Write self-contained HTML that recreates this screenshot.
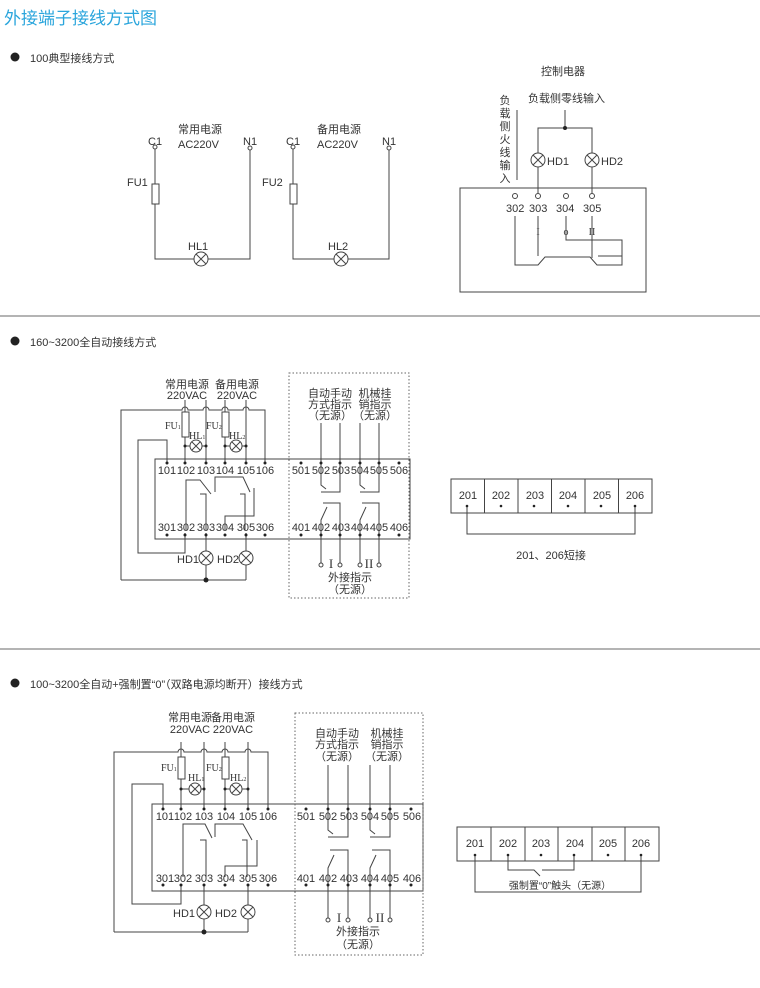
<!DOCTYPE html>
<html><head><meta charset="utf-8"><style>
html,body{margin:0;padding:0;background:#fff;}
svg{display:block;font-family:"Liberation Sans","Noto Sans CJK SC",sans-serif;}
.l{stroke:#444;stroke-width:1;fill:none}
.t{fill:#333;font-size:11px}
.c{fill:#333;font-size:10px}
.s{font-family:"Liberation Serif","Noto Serif CJK SC",serif;fill:#333}
</style></head><body>
<svg width="760" height="988" viewBox="0 0 760 988" xmlns="http://www.w3.org/2000/svg">
<defs>
<g id="lamp"><circle r="7" fill="#fff" stroke="#444"/><path d="M-5,-5L5,5M5,-5L-5,5" stroke="#444"/></g>
<g id="lamps"><circle r="6" fill="#fff" stroke="#444"/><path d="M-4,-4L4,4M4,-4L-4,4" stroke="#444"/></g>
</defs>
<text x="4" y="24" fill="#2aa5dc" font-size="17">外接端子接线方式图</text>

<!-- Section 1 -->
<circle cx="15" cy="57" r="4.5" fill="#222"/>
<text x="30" y="62" class="t" font-size="12">100典型接线方式</text>

<g class="l">
<path d="M155,149V259H250V149"/>
<path d="M293,149V259H389V149"/>
<rect x="152" y="184" width="7" height="20" fill="#fff"/>
<rect x="290" y="184" width="7" height="20" fill="#fff"/>
</g>
<circle cx="155" cy="147" r="2" fill="#fff" stroke="#444"/><circle cx="250" cy="148" r="2" fill="#fff" stroke="#444"/>
<circle cx="293" cy="147" r="2" fill="#fff" stroke="#444"/><circle cx="389" cy="148" r="2" fill="#fff" stroke="#444"/>
<use href="#lamp" x="201" y="259"/><use href="#lamp" x="341" y="259"/>
<g class="t" font-size="12">
<text x="148" y="145">C1</text><text x="243" y="145">N1</text>
<text x="286" y="145">C1</text><text x="382" y="145">N1</text>
<text x="127" y="186">FU1</text><text x="262" y="186">FU2</text>
<text x="188" y="250">HL1</text><text x="328" y="250">HL2</text>
<text x="178" y="133">常用电源</text><text x="178" y="148">AC220V</text>
<text x="317" y="133">备用电源</text><text x="317" y="148">AC220V</text>
</g>

<!-- control box -->
<g class="l">
<rect x="460" y="188" width="186" height="104"/>
<path d="M517,110V180"/>
<path d="M538,193V128H592V193M565,128V110"/>
<path d="M538,216V256M566,216V240H622V256H598M592,216V258"/>
<path d="M515,216V265H538L545,257H590L597,265H622V256"/>
</g>
<circle cx="565" cy="128" r="2" fill="#222"/>
<use href="#lamp" x="538" y="160"/><use href="#lamp" x="592" y="160"/>
<g fill="#fff" stroke="#444"><circle cx="515" cy="196" r="2.5"/><circle cx="538" cy="196" r="2.5"/><circle cx="566" cy="196" r="2.5"/><circle cx="592" cy="196" r="2.5"/></g>
<g class="t" font-size="12">
<text x="541" y="75">控制电器</text>
<text x="528" y="102">负载侧零线输入</text>
<text x="547" y="165">HD1</text><text x="601" y="165">HD2</text>
<text x="506" y="212">302</text><text x="529" y="212">303</text><text x="556" y="212">304</text><text x="583" y="212">305</text>
</g>
<g class="t" font-size="12" text-anchor="middle">
<text x="505" y="104">负</text><text x="505" y="117">载</text><text x="505" y="130">侧</text><text x="505" y="143">火</text><text x="505" y="156">线</text><text x="505" y="169">输</text><text x="505" y="182">入</text>
</g>
<g class="s" font-size="10" text-anchor="middle"><text x="538" y="235">I</text><text x="566" y="235">o</text><text x="592" y="235">II</text></g>

<line x1="0" y1="316" x2="760" y2="316" stroke="#888" stroke-width="1.2"/>

<!-- Section 2 -->
<circle cx="15" cy="341" r="4.5" fill="#222"/>
<text x="30" y="346" class="t" font-size="12">160~3200全自动接线方式</text>

<rect x="155" y="459" width="255" height="80" class="l"/>
<rect x="289" y="373" width="120" height="225" fill="none" stroke="#666" stroke-dasharray="1.5,2"/>
<g class="l">
<path d="M121,580V410H182a3,3 0 0 1 6,0H203a3,3 0 0 1 6,0H222a3,3 0 0 1 6,0H243a3,3 0 0 1 6,0H265V463"/>
<path d="M121,580H246M206,533V580M246,533V580"/>
<path d="M185,400V463M206,400V463M225,400V463M246,400V463"/>
<path d="M185,446H206M225,446H246"/>
<path d="M167,463V440H138V553H185V533"/>
<path d="M186,530V480H200L211,494M200,494H206V530"/>
<path d="M215,492V477H243L250,492M240,494H245V530M225,530V516H254V488"/>
<path d="M321,423V485L326,489M321,492H340V423"/>
<path d="M360,423V485L365,489M360,492H379V423"/>
<path d="M321,533V520L327,507M323,503H340V533"/>
<path d="M360,533V520L366,507M362,503H379V533"/>
<path d="M321,533V563M340,533V563M360,533V563M379,533V563"/>
</g>
<g fill="#fff" stroke="#444"><rect x="182" y="412" width="7" height="25"/><rect x="222" y="412" width="7" height="25"/>
<circle cx="321" cy="565" r="2"/><circle cx="340" cy="565" r="2"/><circle cx="360" cy="565" r="2"/><circle cx="379" cy="565" r="2"/></g>
<use href="#lamps" x="196" y="446"/><use href="#lamps" x="236" y="446"/>
<use href="#lamp" x="206" y="558"/><use href="#lamp" x="246" y="558"/>
<g fill="#222"><circle cx="185" cy="446" r="1.5"/><circle cx="206" cy="446" r="1.5"/><circle cx="225" cy="446" r="1.5"/><circle cx="246" cy="446" r="1.5"/><circle cx="206" cy="580" r="2.5"/>
<circle cx="167" cy="463" r="1.5"/><circle cx="185" cy="463" r="1.5"/><circle cx="206" cy="463" r="1.5"/><circle cx="225" cy="463" r="1.5"/><circle cx="246" cy="463" r="1.5"/><circle cx="265" cy="463" r="1.5"/>
<circle cx="301" cy="463" r="1.5"/><circle cx="321" cy="463" r="1.5"/><circle cx="340" cy="463" r="1.5"/><circle cx="360" cy="463" r="1.5"/><circle cx="379" cy="463" r="1.5"/><circle cx="399" cy="463" r="1.5"/>
<circle cx="167" cy="535" r="1.5"/><circle cx="185" cy="535" r="1.5"/><circle cx="206" cy="535" r="1.5"/><circle cx="225" cy="535" r="1.5"/><circle cx="246" cy="535" r="1.5"/><circle cx="265" cy="535" r="1.5"/>
<circle cx="301" cy="535" r="1.5"/><circle cx="321" cy="535" r="1.5"/><circle cx="340" cy="535" r="1.5"/><circle cx="360" cy="535" r="1.5"/><circle cx="379" cy="535" r="1.5"/><circle cx="399" cy="535" r="1.5"/></g>
<g class="t" font-size="10" text-anchor="middle">
<text x="167" y="474">101</text><text x="186" y="474">102</text><text x="206" y="474">103</text><text x="225" y="474">104</text><text x="246" y="474">105</text><text x="265" y="474">106</text>
<text x="301" y="474">501</text><text x="321" y="474">502</text><text x="341" y="474">503</text><text x="360" y="474">504</text><text x="379" y="474">505</text><text x="399" y="474">506</text>
<text x="167" y="531">301</text><text x="186" y="531">302</text><text x="206" y="531">303</text><text x="225" y="531">304</text><text x="246" y="531">305</text><text x="265" y="531">306</text>
<text x="301" y="531">401</text><text x="321" y="531">402</text><text x="341" y="531">403</text><text x="360" y="531">404</text><text x="379" y="531">405</text><text x="399" y="531">406</text>
<text x="187" y="388">常用电源</text><text x="187" y="399">220VAC</text>
<text x="237" y="388">备用电源</text><text x="237" y="399">220VAC</text>
<text x="330" y="397">自动手动</text><text x="330" y="408">方式指示</text><text x="330" y="419">（无源）</text>
<text x="375" y="397">机械挂</text><text x="375" y="408">销指示</text><text x="375" y="419">（无源）</text>
<text x="350" y="581">外接指示</text><text x="350" y="593">（无源）</text>
</g>
<g class="t" font-size="11"><text x="177" y="563">HD1</text><text x="217" y="563">HD2</text></g>
<g class="s" font-size="10"><text x="165" y="429">FU<tspan font-size="6">1</tspan></text><text x="206" y="429">FU<tspan font-size="6">2</tspan></text>
<text x="189" y="439">HL<tspan font-size="6">1</tspan></text><text x="229" y="439">HL<tspan font-size="6">2</tspan></text></g>
<g class="s" font-size="13" text-anchor="middle"><text x="331" y="568">I</text><text x="369" y="568">II</text></g>

<!-- terminal block 1 -->
<g class="l"><rect x="451" y="479" width="201" height="34"/>
<path d="M484.5,479V513M518,479V513M551.5,479V513M585,479V513M618.5,479V513"/>
<path d="M467,506V534H635V506"/></g>
<g class="t" font-size="12" text-anchor="middle">
<text x="468" y="499">201</text><text x="501" y="499">202</text><text x="535" y="499">203</text><text x="568" y="499">204</text><text x="602" y="499">205</text><text x="635" y="499">206</text>
<text x="551" y="559">201、206短接</text></g>
<g fill="#222"><circle cx="467" cy="506" r="1.3"/><circle cx="501" cy="506" r="1.3"/><circle cx="534" cy="506" r="1.3"/><circle cx="568" cy="506" r="1.3"/><circle cx="601" cy="506" r="1.3"/><circle cx="635" cy="506" r="1.3"/></g>

<line x1="0" y1="649" x2="760" y2="649" stroke="#888" stroke-width="1.2"/>

<!-- Section 3 -->
<circle cx="15" cy="683" r="4.5" fill="#222"/>
<text x="30" y="688" class="t" font-size="12">100~3200全自动+强制置“0”（双路电源均断开）接线方式</text>

<rect x="152" y="804" width="271" height="87" class="l"/>
<rect x="295" y="713" width="128" height="242" fill="none" stroke="#666" stroke-dasharray="1.5,2"/>
<g class="l">
<path d="M114,932V752H178a3,3 0 0 1 6,0H201a3,3 0 0 1 6,0H222a3,3 0 0 1 6,0H245a3,3 0 0 1 6,0H268V809"/>
<path d="M114,932H248M204,884V932M248,884V932"/>
<path d="M181,742V809M204,742V809M225,742V809M248,742V809"/>
<path d="M181,789H204M225,789H248"/>
<path d="M163,809V784H132V904H181V884"/>
<path d="M183,877V824H205L212,838M200,840H206V877"/>
<path d="M215,837V824H243L252,840M242,840H247V877M225,877V866H257V840"/>
<path d="M328,765V830L333,834M328,837H348V765"/>
<path d="M370,765V830L375,834M370,837H390V765"/>
<path d="M328,884V868L334,855M330,850H348V884"/>
<path d="M370,884V868L376,855M372,850H390V884"/>
<path d="M328,884V918M348,884V918M370,884V918M390,884V918"/>
</g>
<g fill="#fff" stroke="#444"><rect x="178" y="757" width="7" height="22"/><rect x="222" y="757" width="7" height="22"/>
<circle cx="328" cy="920" r="2"/><circle cx="348" cy="920" r="2"/><circle cx="370" cy="920" r="2"/><circle cx="390" cy="920" r="2"/></g>
<use href="#lamps" x="195" y="789"/><use href="#lamps" x="236" y="789"/>
<use href="#lamp" x="204" y="912"/><use href="#lamp" x="248" y="912"/>
<g fill="#222"><circle cx="181" cy="789" r="1.5"/><circle cx="204" cy="789" r="1.5"/><circle cx="225" cy="789" r="1.5"/><circle cx="248" cy="789" r="1.5"/><circle cx="204" cy="932" r="2.5"/>
<circle cx="163" cy="809" r="1.5"/><circle cx="181" cy="809" r="1.5"/><circle cx="204" cy="809" r="1.5"/><circle cx="225" cy="809" r="1.5"/><circle cx="248" cy="809" r="1.5"/><circle cx="268" cy="809" r="1.5"/>
<circle cx="306" cy="809" r="1.5"/><circle cx="328" cy="809" r="1.5"/><circle cx="348" cy="809" r="1.5"/><circle cx="370" cy="809" r="1.5"/><circle cx="390" cy="809" r="1.5"/><circle cx="411" cy="809" r="1.5"/>
<circle cx="163" cy="885" r="1.5"/><circle cx="181" cy="885" r="1.5"/><circle cx="204" cy="885" r="1.5"/><circle cx="225" cy="885" r="1.5"/><circle cx="248" cy="885" r="1.5"/><circle cx="268" cy="885" r="1.5"/>
<circle cx="306" cy="885" r="1.5"/><circle cx="328" cy="885" r="1.5"/><circle cx="348" cy="885" r="1.5"/><circle cx="370" cy="885" r="1.5"/><circle cx="390" cy="885" r="1.5"/><circle cx="411" cy="885" r="1.5"/></g>
<g class="t" font-size="10.5" text-anchor="middle">
<text x="165" y="820">101</text><text x="183" y="820">102</text><text x="204" y="820">103</text><text x="226" y="820">104</text><text x="248" y="820">105</text><text x="268" y="820">106</text>
<text x="306" y="820">501</text><text x="328" y="820">502</text><text x="349" y="820">503</text><text x="370" y="820">504</text><text x="390" y="820">505</text><text x="412" y="820">506</text>
<text x="165" y="882">301</text><text x="183" y="882">302</text><text x="204" y="882">303</text><text x="226" y="882">304</text><text x="248" y="882">305</text><text x="268" y="882">306</text>
<text x="306" y="882">401</text><text x="328" y="882">402</text><text x="349" y="882">403</text><text x="370" y="882">404</text><text x="390" y="882">405</text><text x="412" y="882">406</text>
<text x="190" y="721">常用电源</text><text x="190" y="733">220VAC</text>
<text x="233" y="721">备用电源</text><text x="233" y="733">220VAC</text>
<text x="337" y="737">自动手动</text><text x="337" y="748">方式指示</text><text x="337" y="760">（无源）</text>
<text x="387" y="737">机械挂</text><text x="387" y="748">销指示</text><text x="387" y="760">（无源）</text>
<text x="358" y="935">外接指示</text><text x="358" y="948">（无源）</text>
</g>
<g class="t" font-size="11"><text x="173" y="917">HD1</text><text x="215" y="917">HD2</text></g>
<g class="s" font-size="10"><text x="161" y="771">FU<tspan font-size="6">1</tspan></text><text x="206" y="771">FU<tspan font-size="6">2</tspan></text>
<text x="188" y="781">HL<tspan font-size="6">1</tspan></text><text x="230" y="781">HL<tspan font-size="6">2</tspan></text></g>
<g class="s" font-size="13" text-anchor="middle"><text x="339" y="922">I</text><text x="380" y="922">II</text></g>

<!-- terminal block 2 -->
<g class="l"><rect x="457" y="827" width="202" height="34"/>
<path d="M491,827V861M525,827V861M558,827V861M592,827V861M625,827V861"/>
<path d="M475,855V892H641V855"/>
<path d="M508,855V870H534L540,876M542,870H574V855"/></g>
<g class="t" font-size="12" text-anchor="middle">
<text x="475" y="847">201</text><text x="508" y="847">202</text><text x="541" y="847">203</text><text x="575" y="847">204</text><text x="608" y="847">205</text><text x="641" y="847">206</text>
<text x="560" y="889" font-size="10">强制置“0”触头（无源）</text></g>
<g fill="#222"><circle cx="475" cy="855" r="1.3"/><circle cx="508" cy="855" r="1.3"/><circle cx="541" cy="855" r="1.3"/><circle cx="574" cy="855" r="1.3"/><circle cx="608" cy="855" r="1.3"/><circle cx="641" cy="855" r="1.3"/></g>
</svg>
</body></html>
